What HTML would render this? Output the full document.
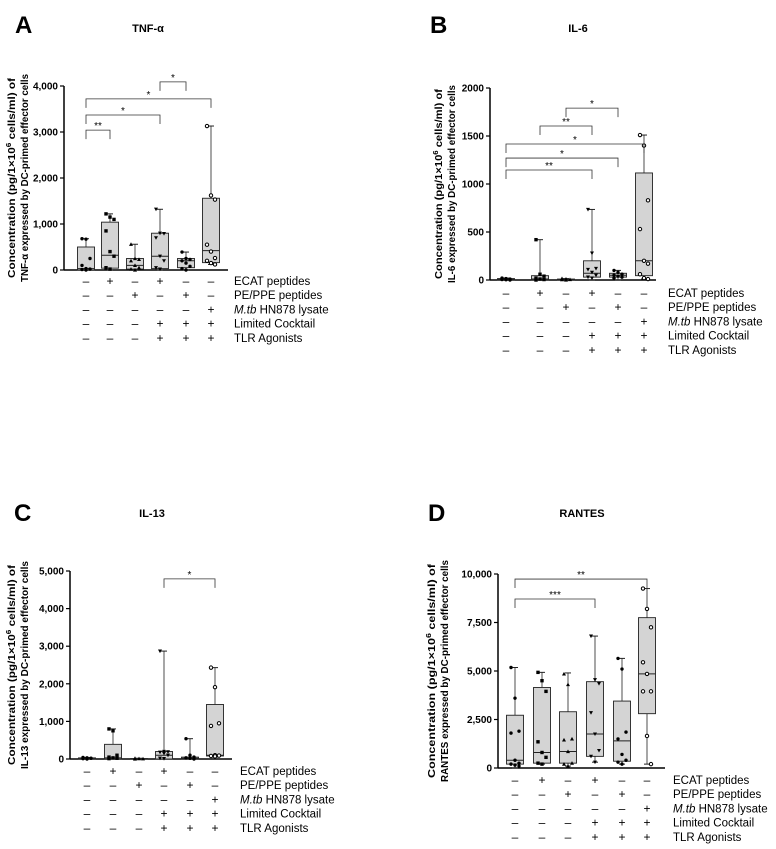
<!DOCTYPE html>
<html><head><meta charset="utf-8"><style>
body{margin:0;background:#fff}
svg{display:block;font-family:"Liberation Sans",sans-serif}
</style></head><body>
<svg id="fig" width="776" height="849" viewBox="0 0 776 849" xmlns="http://www.w3.org/2000/svg"></svg>
<script>
// ---- Panel A: TNF-α ----
const aQ1=[0,40,20,30,50,160];
const aMed=[30,320,100,300,200,420];
const aQ3=[500,1040,250,800,250,1560];
const aMin=[0,0,0,0,0,120];
const aMax=[680,1220,560,1320,390,3130];
const aPts=[[680,670,250,100,30,20,10,0],[1220,1150,1100,850,400,300,50,20],[560,250,230,200,100,50,20,0],[1320,800,790,700,300,200,50,20],[390,250,230,200,150,80,30,0],[3130,1620,1530,550,400,260,200,150,120]];
const aTicks=[0,1000,2000,3000,4000];
const aTickLabels=["0","1,000","2,000","3,000","4,000"];
const aBrackets=[[0,1,3040,"**"],[0,3,3370,"*"],[0,5,3720,"*"],[3,4,4090,"*"]];
// ---- Panel B: IL-6 ----
const bQ1=[0,0,0,30,30,45];
const bMed=[5,10,5,70,50,200];
const bQ3=[15,45,10,200,70,1115];
const bMin=[0,0,0,0,0,10];
const bMax=[20,420,15,735,100,1510];
const bPts=[[20,15,10,5,3,0],[420,60,40,20,10,5,0],[15,10,5,3,0],[735,280,120,110,80,50,30,20],[100,80,60,50,40,30,20],[1510,1400,830,530,200,170,60,20,10]];
const bTicks=[0,500,1000,1500,2000];
const bTickLabels=["0","500","1000","1500","2000"];
const bBrackets=[[0,3,1146,"**"],[0,4,1270,"*"],[0,5,1417,"*"],[1,3,1604,"**"],[2,4,1790,"*"]];
// ---- Panel C: IL-13 ----
const cQ1=[0,0,0,0,0,80];
const cMed=[10,30,5,100,20,100];
const cQ3=[30,390,10,200,50,1450];
const cMin=[0,0,0,0,0,50];
const cMax=[40,800,20,2870,540,2430];
const cPts=[[40,30,20,10,0],[800,750,100,50,30,20,10],[20,10,5,0],[2870,200,190,180,150,100,20,10],[540,100,50,30,20,0],[2430,1910,950,880,100,90,80,70]];
const cTicks=[0,1000,2000,3000,4000,5000];
const cTickLabels=["0","1,000","2,000","3,000","4,000","5,000"];
const cBrackets=[[3,5,4790,"*"]];
// ---- Panel D: RANTES ----
const dQ1=[200,250,250,600,350,2800];
const dMed=[400,800,850,1750,1400,4850];
const dQ3=[2720,4150,2900,4450,3450,7750];
const dMin=[0,200,100,300,200,200];
const dMax=[5180,4930,4900,6800,5650,9250];
const dPts=[[5180,3600,1900,1800,400,250,200,150,100],[4930,4500,3950,1350,800,550,250,200],[4850,4300,1500,1450,850,250,200,100],[6800,4550,4350,2850,1750,900,600,300],[5650,5100,1850,1500,700,400,300,200],[9250,8200,7250,5450,4850,3950,3950,1650,200]];
const dTicks=[0,2500,5000,7500,10000];
const dTickLabels=["0","2,500","5,000","7,500","10,000"];
const dBrackets=[[0,5,9740,"**"],[0,3,8710,"***"]];

const rowNames=["ECAT peptides","PE/PPE peptides","M.tb HN878 lysate","Limited Cocktail","TLR Agonists"];
const rowSigns=[["−","+","−","+","−","−"],["−","−","+","−","+","−"],["−","−","−","−","−","+"],["−","−","−","+","+","+"],["−","−","−","+","+","+"]];

const NS="http://www.w3.org/2000/svg";
const svg=document.getElementById('fig');
function mk(tag,attrs,parent,txt){const e=document.createElementNS(NS,tag);for(const k in attrs)e.setAttribute(k,attrs[k]);if(txt!==undefined)e.textContent=txt;(parent||svg).appendChild(e);return e;}

function panel(p){
  const g=mk('g',{});
  
  
  const y=v=>p.y0-(v/p.ymax)*(p.y0-p.yTop);
  const x=i=>p.cx[i];
  const L=mk('text',{x:p.lx,y:p.ly,'font-size':24,'font-weight':'bold'},g,p.id);
  
  const T=mk('text',{x:p.tx,y:p.ty,'font-size':11,'font-weight':'bold','text-anchor':'middle'},g,p.title);
  
  const mid=(p.y0+p.yTop)/2;
  const yt=mk('text',{transform:`translate(${p.ax+p.t1},${mid}) rotate(-90)`,'font-size':10,'font-weight':'bold','text-anchor':'middle',textLength:p.tl-8,lengthAdjust:'spacingAndGlyphs'},g);
  
  yt.innerHTML='Concentration (pg/1×10<tspan font-size="7" dy="-4">6</tspan><tspan dy="4"> cells/ml) of</tspan>';
  const yt2=mk('text',{transform:`translate(${p.ax+p.t1+13},${mid}) rotate(-90)`,'font-size':10,'font-weight':'bold','text-anchor':'middle',textLength:p.tl,lengthAdjust:'spacingAndGlyphs'},g,p.title+' expressed by DC-primed effector cells');
  
  const ya=mk('line',{x1:p.ax,y1:y(p.ymax),x2:p.ax,y2:p.y0,stroke:'#000','stroke-width':1.5},g);
  
  const xa=mk('line',{x1:p.ax,y1:p.y0,x2:p.xEnd,y2:p.y0,stroke:'#000','stroke-width':1.5},g);
  
  p.ticks.forEach((t,i)=>{
    mk('line',{x1:p.ax-4,x2:p.ax,y1:y(t),y2:y(t),stroke:'#000','stroke-width':1.2},g);
    const tl=mk('text',{x:p.ax-6,y:y(t)+3.5,'font-size':10,'font-weight':'bold','text-anchor':'end'},g,p.tickLabels[i]);
    
  });
  const hw=8.5;
  for(let i=0;i<6;i++){
    const bg=mk('g',{},g);
    
    mk('line',{x1:x(i),x2:x(i),y1:y(p.max[i]),y2:y(p.min[i]),stroke:'#222','stroke-width':0.8},bg);
    mk('line',{x1:x(i)-3,x2:x(i)+3,y1:y(p.max[i]),y2:y(p.max[i]),stroke:'#222','stroke-width':1},bg);
    mk('line',{x1:x(i)-3,x2:x(i)+3,y1:y(p.min[i]),y2:y(p.min[i]),stroke:'#222','stroke-width':1},bg);
    const r=mk('rect',{x:x(i)-hw,y:y(p.q3[i]),width:2*hw,height:Math.max(0.5,y(p.q1[i])-y(p.q3[i])),fill:'#d4d4d4',stroke:'#222','stroke-width':0.9},bg);
    
    mk('line',{x1:x(i)-hw,x2:x(i)+hw,y1:y(p.med[i]),y2:y(p.med[i]),stroke:'#222','stroke-width':1},bg);
    p.pts[i].forEach((v,j)=>{
      const px=x(i)+((j%3)-1)*4, py=y(v);
      let m;
      if(i===0||i===4) m=mk('circle',{cx:px,cy:py,r:1.7,fill:'#000'},bg);
      else if(i===1) m=mk('rect',{x:px-1.7,y:py-1.7,width:3.4,height:3.4,fill:'#000'},bg);
      else if(i===2) m=mk('polygon',{points:`${px},${py-2} ${px-2},${py+1.6} ${px+2},${py+1.6}`,fill:'#000'},bg);
      else if(i===3) m=mk('polygon',{points:`${px},${py+2} ${px-2},${py-1.6} ${px+2},${py-1.6}`,fill:'#000'},bg);
      else m=mk('circle',{cx:px,cy:py,r:1.7,fill:'#fff',stroke:'#000','stroke-width':1},bg);
      
    });
  }
  p.brackets.forEach(b=>{
    const by=y(b[2]);
    const bk=mk('path',{d:`M${x(b[0])},${by+9} V${by} H${x(b[1])} V${by+9}`,fill:'none',stroke:'#333','stroke-width':0.8},g);
    
    const st=mk('text',{x:(x(b[0])+x(b[1]))/2,y:by-1,'font-size':10,'text-anchor':'middle'},g,b[3]);
    
  });
  rowNames.forEach((n,r)=>{
    const ry=p.row0+r*14.2;
    rowSigns[r].forEach((s,i)=>{
      mk('text',{x:x(i),y:ry+4,'font-size':12,'text-anchor':'middle'},g,s==='−'?'–':'+');
    });
    const lt=mk('text',{x:p.labX,y:ry+4,'font-size':11.5},g);
    
    if(r===2) lt.innerHTML='<tspan font-style="italic">M.tb</tspan> HN878 lysate'; else lt.textContent=n;
  });
}

panel({id:'A',title:'TNF-α',lx:15,ly:33,tx:148,ty:32,ax:64,t1:-49,tl:208,y0:270,yTop:86,ymax:4000,xEnd:228,cx:[86,110,135,160,186,211],
  q1:aQ1,med:aMed,q3:aQ3,min:aMin,max:aMax,pts:aPts,ticks:aTicks,tickLabels:aTickLabels,brackets:aBrackets,row0:281,labX:234});
panel({id:'B',title:'IL-6',lx:430,ly:33,tx:578,ty:32,ax:490,t1:-48,tl:198,y0:280,yTop:88,ymax:2000,xEnd:656,cx:[506,540,566,592,618,644],
  q1:bQ1,med:bMed,q3:bQ3,min:bMin,max:bMax,pts:bPts,ticks:bTicks,tickLabels:bTickLabels,brackets:bBrackets,row0:293,labX:668});
panel({id:'C',title:'IL-13',lx:14,ly:521,tx:152,ty:517,ax:70,t1:-55,tl:208,y0:759,yTop:571,ymax:5000,xEnd:232,cx:[87,113,139,164,190,215],
  q1:cQ1,med:cMed,q3:cQ3,min:cMin,max:cMax,pts:cPts,ticks:cTicks,tickLabels:cTickLabels,brackets:cBrackets,row0:771,labX:240});
panel({id:'D',title:'RANTES',lx:428,ly:521,tx:582,ty:517,ax:498,t1:-63,tl:222,y0:768,yTop:574,ymax:10000,xEnd:665,cx:[515,542,568,595,622,647],
  q1:dQ1,med:dMed,q3:dQ3,min:dMin,max:dMax,pts:dPts,ticks:dTicks,tickLabels:dTickLabels,brackets:dBrackets,row0:780,labX:673});
</script>
</body></html>
